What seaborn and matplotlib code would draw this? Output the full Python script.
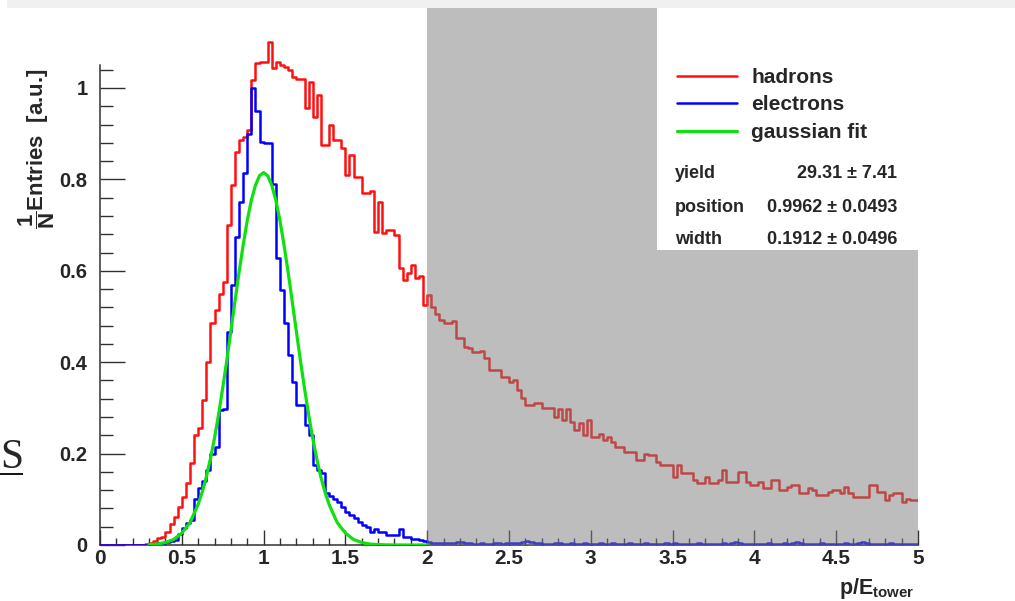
import numpy as np
import pandas as pd
import matplotlib
matplotlib.use("Agg")
import matplotlib.pyplot as plt
import seaborn as sns
from matplotlib.lines import Line2D
from matplotlib.patches import Rectangle
from matplotlib.ticker import FixedLocator
from matplotlib import font_manager

# ---------------- data ----------------
bin_lo, bin_hi, n_bins = 0.0, 5.0, 200

hadrons = [
    0, 0, 0, 0, 0, 0, 0, 0, 0, 0,
    0.001, 0.002, 0.005, 0.008, 0.015, 0.018, 0.028, 0.045, 0.062, 0.083,
    0.105, 0.135, 0.18, 0.24, 0.255, 0.317, 0.40, 0.485, 0.514, 0.55,
    0.576, 0.70, 0.787, 0.86, 0.886, 0.893, 0.908, 1.017, 1.055, 1.057,
    1.057, 1.10, 1.044, 1.057, 1.05, 1.046, 1.04, 1.024, 1.02, 1.02,
    0.956, 1.013, 0.937, 0.985, 0.875, 0.875, 0.92, 0.886, 0.886, 0.869,
    0.81, 0.853, 0.805, 0.805, 0.77, 0.77, 0.775, 0.685, 0.75, 0.683,
    0.69, 0.69, 0.678, 0.606, 0.58, 0.595, 0.613, 0.584, 0.589, 0.525,
    0.547, 0.52, 0.505, 0.492, 0.485, 0.485, 0.49, 0.453, 0.453, 0.433,
    0.43, 0.422, 0.422, 0.425, 0.41, 0.383, 0.383, 0.383, 0.368, 0.368,
    0.357, 0.36, 0.34, 0.322, 0.306, 0.306, 0.31, 0.31, 0.30, 0.30,
    0.30, 0.28, 0.297, 0.273, 0.297, 0.27, 0.252, 0.266, 0.24, 0.273,
    0.236, 0.236, 0.243, 0.23, 0.236, 0.225, 0.215, 0.215, 0.203, 0.203,
    0.203, 0.186, 0.186, 0.20, 0.197, 0.197, 0.182, 0.175, 0.175, 0.175,
    0.149, 0.175, 0.157, 0.157, 0.157, 0.142, 0.135, 0.135, 0.149, 0.135,
    0.135, 0.142, 0.164, 0.138, 0.138, 0.138, 0.16, 0.16, 0.138, 0.131,
    0.131, 0.138, 0.125, 0.125, 0.142, 0.142, 0.12, 0.12, 0.127, 0.131,
    0.131, 0.114, 0.114, 0.125, 0.12, 0.109, 0.109, 0.109, 0.117, 0.12,
    0.12, 0.114, 0.127, 0.114, 0.105, 0.105, 0.105, 0.105, 0.131, 0.131,
    0.117, 0.117, 0.098, 0.109, 0.114, 0.114, 0.094, 0.101, 0.098, 0.098,
]

electrons = [
    0, 0, 0, 0, 0, 0, 0, 0, 0, 0,
    0, 0, 0.002, 0.002, 0.004, 0.005, 0.006, 0.008, 0.01, 0.025,
    0.038, 0.048, 0.055, 0.10, 0.125, 0.14, 0.165, 0.20, 0.214, 0.295,
    0.297, 0.466, 0.569, 0.674, 0.75, 0.814, 0.90, 1.0, 0.95, 0.882,
    0.88, 0.88, 0.79, 0.628, 0.558, 0.486, 0.416, 0.357, 0.306, 0.306,
    0.262, 0.24, 0.175, 0.165, 0.157, 0.113, 0.107, 0.10, 0.094, 0.083,
    0.072, 0.065, 0.059, 0.05, 0.044, 0.04, 0.028, 0.035, 0.028, 0.028,
    0.022, 0.022, 0.022, 0.035, 0.018, 0.018, 0.013, 0.013, 0.01, 0.008,
    0.006, 0.005, 0.004, 0.005, 0.004, 0.004, 0.005, 0.007, 0.006, 0.004,
    0.004, 0.003, 0.003, 0.004, 0.003, 0.003, 0.004, 0.004, 0.003, 0.004,
    0.004, 0.005, 0.004, 0.006, 0.008, 0.006, 0.004, 0.004, 0.003, 0.003,
    0.003, 0.004, 0.004, 0.003, 0.003, 0.004, 0.003, 0.003, 0.004, 0.003,
    0.003, 0.003, 0.004, 0.003, 0.003, 0.004, 0.003, 0.003, 0.003, 0.004,
    0.003, 0.003, 0.003, 0.004, 0.003, 0.003, 0.003, 0.003, 0.004, 0.003,
    0.004, 0.003, 0.003, 0.003, 0.003, 0.003, 0.004, 0.003, 0.003, 0.003,
    0.003, 0.003, 0.004, 0.003, 0.005, 0.006, 0.004, 0.003, 0.003, 0.003,
    0.003, 0.003, 0.003, 0.004, 0.003, 0.003, 0.003, 0.004, 0.003, 0.005,
    0.006, 0.004, 0.003, 0.003, 0.003, 0.003, 0.004, 0.003, 0.003, 0.003,
    0.003, 0.003, 0.004, 0.003, 0.003, 0.005, 0.006, 0.004, 0.003, 0.003,
    0.003, 0.003, 0.003, 0.004, 0.003, 0.003, 0.003, 0.003, 0.003, 0.003,
]

fit_x = [0.30, 0.35, 0.40, 0.45, 0.50, 0.55, 0.60,
         0.625, 0.65, 0.675, 0.70, 0.725, 0.75, 0.775, 0.80, 0.825, 0.85,
         0.875, 0.90, 0.925, 0.95, 0.975, 1.00, 1.025, 1.05, 1.075, 1.10,
         1.125, 1.15, 1.175, 1.20, 1.225, 1.25, 1.275, 1.30, 1.325, 1.35,
         1.375, 1.40,
         1.45, 1.50, 1.55, 1.60, 1.65, 1.70, 1.75, 1.80, 1.85, 1.90, 1.95, 2.00]
fit_y = [0.001, 0.002, 0.0055, 0.012, 0.026, 0.049, 0.089,
         0.116, 0.149, 0.189, 0.234, 0.286, 0.343, 0.404, 0.468, 0.533, 0.597,
         0.656, 0.710, 0.754, 0.787, 0.808, 0.815, 0.808, 0.787, 0.754, 0.710,
         0.656, 0.597, 0.533, 0.468, 0.404, 0.343, 0.286, 0.234, 0.189, 0.149,
         0.116, 0.089,
         0.049, 0.026, 0.012, 0.0055, 0.002, 0.001, 0.0003, 0.0001, 0, 0, 0, 0]

legend_labels = ["hadrons", "electrons", "gaussian fit"]
stat_names = ["yield", "position", "width"]
stat_values = ["29.31 \u00b1 7.41", "0.9962 \u00b1 0.0493", "0.1912 \u00b1 0.0496"]

xtick_vals = [0, 0.5, 1, 1.5, 2, 2.5, 3, 3.5, 4, 4.5, 5]
xtick_labels = ["0", "0.5", "1", "1.5", "2", "2.5", "3", "3.5", "4", "4.5", "5"]
ytick_vals = [0, 0.2, 0.4, 0.6, 0.8, 1.0]
ytick_labels = ["0", "0.2", "0.4", "0.6", "0.8", "1"]
excluded_lo, excluded_hi = 2.0, 5.0

assert len(hadrons) == n_bins and len(electrons) == n_bins
assert len(fit_x) == len(fit_y)

# ---------------- style ----------------
sns.set_theme(style="ticks")
plt.rcParams["font.family"] = ["Liberation Sans", "DejaVu Sans"]
plt.rcParams["font.weight"] = "bold"
plt.rcParams["mathtext.fontset"] = "custom"
plt.rcParams["mathtext.rm"] = "Liberation Sans:bold"
plt.rcParams["mathtext.bf"] = "Liberation Sans:bold"
plt.rcParams["mathtext.it"] = "Liberation Sans:bold"

W, H = 1015, 601
fig = plt.figure(figsize=(W / 100, H / 100), dpi=100)
fig.patch.set_facecolor("white")
ax = fig.add_axes([100 / W, 56 / H, 818 / W, 537 / H])

edges = np.linspace(bin_lo, bin_hi, n_bins + 1)
centers = 0.5 * (edges[:-1] + edges[1:])
df = pd.DataFrame({"x": centers, "hadrons": hadrons, "electrons": electrons})
bin_edges = [float(e) for e in edges]

sns.histplot(data=df, x="x", weights="hadrons", bins=bin_edges, element="step",
             fill=False, color="#ff1010", linewidth=1.8, ax=ax,
             label=legend_labels[0], zorder=3)
sns.histplot(data=df, x="x", weights="electrons", bins=bin_edges, element="step",
             fill=False, color="#0000ff", linewidth=1.8, ax=ax,
             label=legend_labels[1], zorder=4)
sns.lineplot(x=fit_x, y=fit_y, color="#10e010", linewidth=2.3, ax=ax,
             label=legend_labels[2], zorder=5)

# shaded (excluded) p/E region
ax.axvspan(excluded_lo, excluded_hi, facecolor="#7f7f7f", alpha=0.51,
           lw=0, zorder=10)

ax.set_xlim(0, 5)
ax.set_ylim(0, 1.175)

for s in ["top", "right"]:
    ax.spines[s].set_visible(False)
ax.spines["left"].set_bounds(0, 1.05)
for s in ["left", "bottom"]:
    ax.spines[s].set_color("#303030")
    ax.spines[s].set_linewidth(1.1)

ax.xaxis.set_major_locator(FixedLocator(xtick_vals))
ax.set_xticklabels(xtick_labels)
ax.xaxis.set_minor_locator(FixedLocator([i * 0.1 for i in range(51)]))
ax.yaxis.set_major_locator(FixedLocator(ytick_vals))
ax.set_yticklabels(ytick_labels)
ax.yaxis.set_minor_locator(FixedLocator([i * 0.04 for i in range(27)]))

ax.tick_params(axis="x", which="major", direction="in", length=11, width=1,
               color="#303030", labelsize=15, pad=3)
ax.tick_params(axis="x", which="minor", direction="in", length=5, width=1,
               color="#303030")
ax.tick_params(axis="y", which="major", direction="in", length=18, width=1,
               color="#303030", labelsize=14.5, pad=9)
ax.tick_params(axis="y", which="minor", direction="in", length=9, width=1,
               color="#303030")
ax.tick_params(top=False, right=False)

ax.set_ylabel(r"$\dfrac{\mathbf{1}}{\mathbf{N}}$Entries  [a.u.]", fontsize=16,
              fontweight="bold")
ax.yaxis.set_label_coords(-0.053, 0.737)
ax.set_xlabel(r"$\mathbf{p/E_{tower}}$", fontsize=15.5, loc="right")
ax.xaxis.set_label_coords(0.9963, -0.058)

# white legend / fit-result box
ax.add_patch(Rectangle((0.681, 0.549), 0.325, 0.452, transform=ax.transAxes,
                       facecolor="white", edgecolor="none", zorder=15,
                       clip_on=False))
leg = ax.legend(loc="upper left", bbox_to_anchor=(0.7054, 0.888),
                frameon=False, fontsize=15, handlelength=2.9,
                handletextpad=0.67, labelspacing=0.4, borderpad=0,
                borderaxespad=0)
leg.set_zorder(20)

stat_y = [0.691, 0.629, 0.568]
for name, val, yy in zip(stat_names, stat_values, stat_y):
    ax.text(0.703, yy, name, transform=ax.transAxes, fontsize=13,
            ha="left", va="center", zorder=21)
    ax.text(0.9743, yy, val, transform=ax.transAxes, fontsize=13,
            ha="right", va="center", zorder=21)

# slide remnants: light band on top and an underlined "S" at the left
fig.patches.append(Rectangle((7 / W, 1 - 8 / H), 1, 8 / H,
                             transform=fig.transFigure, facecolor="#f0f0f0",
                             edgecolor="none", zorder=0))
serif_fp = font_manager.FontProperties(family="Liberation Serif",
                                       weight="normal", style="normal",
                                       size=30)
fig.text(0.0, 1 - 468 / H, "S", fontproperties=serif_fp,
         ha="left", va="baseline")
fig.add_artist(Line2D([0.0, 23 / W], [1 - 474 / H, 1 - 474 / H],
                      transform=fig.transFigure, color="black", lw=1.3,
                      solid_capstyle="butt"))

fig.savefig("out.png", dpi=100)
